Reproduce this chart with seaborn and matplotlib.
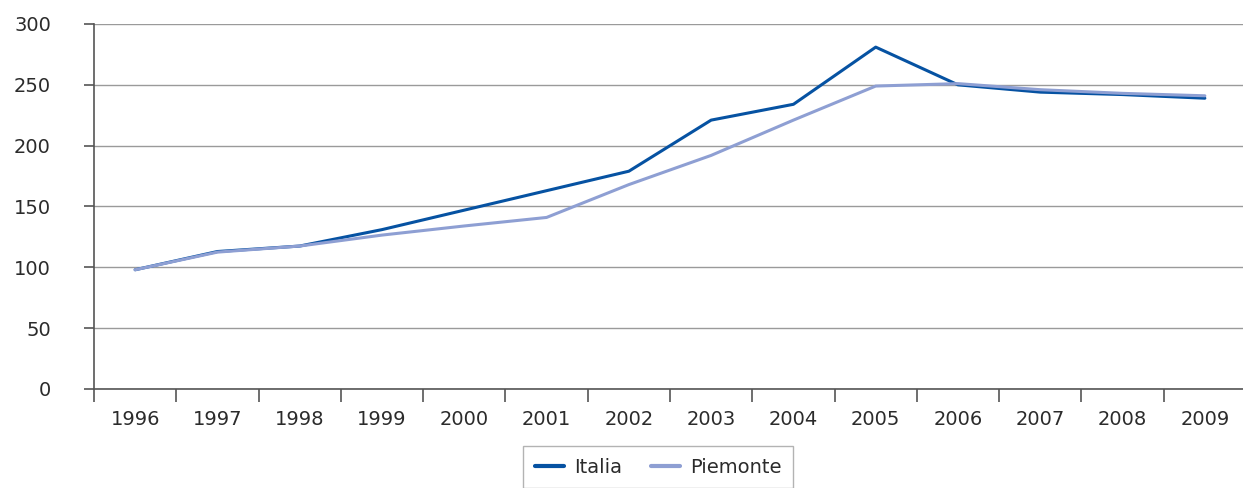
import pandas as pd
import matplotlib.pyplot as plt
import seaborn as sns

sns.set_theme(style="white")
plt.rcParams['font.family'] = ['DejaVu Sans']

# Data
years = ['1996', '1997', '1998', '1999', '2000', '2001', '2002',
         '2003', '2004', '2005', '2006', '2007', '2008', '2009']
italia = [98, 113, 117.5, 131, 147, 163, 179, 221, 234, 281, 250, 244, 242, 239]
piemonte = [98, 112.5, 117.5, 126.5, 134, 141, 168, 192, 221, 249, 251, 246, 243, 241]

df = pd.DataFrame({
    'Anno': years * 2,
    'Valore': italia + piemonte,
    'Serie': ['Italia'] * len(years) + ['Piemonte'] * len(years),
})

colors = {'Italia': '#0652a2', 'Piemonte': '#8e9fd3'}
text_col = '#2b2b2b'

fig = plt.figure(figsize=(12.43, 4.88), dpi=100)
ax = fig.add_axes([94 / 1243, 1 - 389 / 488, 1152 / 1243, 365 / 488])

sns.lineplot(data=df, x='Anno', y='Valore', hue='Serie', palette=colors,
             linewidth=2.2, ax=ax, legend=False)

ax.set_xlim(-0.5, len(years) - 0.5)
ax.set_ylim(0, 300)
ax.set_yticks(range(0, 301, 50))
ax.set_xticks(range(len(years)))
ax.set_xticklabels(years)
ax.set_xticks([i - 0.5 for i in range(len(years) + 1)], minor=True)
ax.set_xlabel('')
ax.set_ylabel('')

ax.grid(axis='y', color='#9a9a9a', linewidth=1)
ax.set_axisbelow(True)
for side in ['top', 'right']:
    ax.spines[side].set_visible(False)
for side in ['left', 'bottom']:
    ax.spines[side].set_color('#555555')
    ax.spines[side].set_linewidth(1.2)

ax.tick_params(axis='y', which='major', left=True, length=7, width=1.2,
               color='#555555', pad=24, labelsize=14, labelcolor=text_col)
ax.tick_params(axis='x', which='major', bottom=False, pad=9,
               labelsize=14, labelcolor=text_col)
ax.tick_params(axis='x', which='minor', bottom=True, length=9, width=1.2,
               color='#555555')

handles = [plt.Line2D([], [], color=colors[s], linewidth=3) for s in ['Italia', 'Piemonte']]
leg = fig.legend(handles, ['Italia', 'Piemonte'], ncol=2,
                 loc='upper center', bbox_to_anchor=(658 / 1243, 1 - 446 / 488),
                 borderaxespad=0, frameon=True, fancybox=False, fontsize=14,
                 handlelength=1.5, handletextpad=0.5, columnspacing=1.5,
                 borderpad=0.6, labelcolor=text_col)
leg.get_frame().set_edgecolor('#a0a0a0')
leg.get_frame().set_linewidth(1)

fig.savefig('out.png', dpi=100)
